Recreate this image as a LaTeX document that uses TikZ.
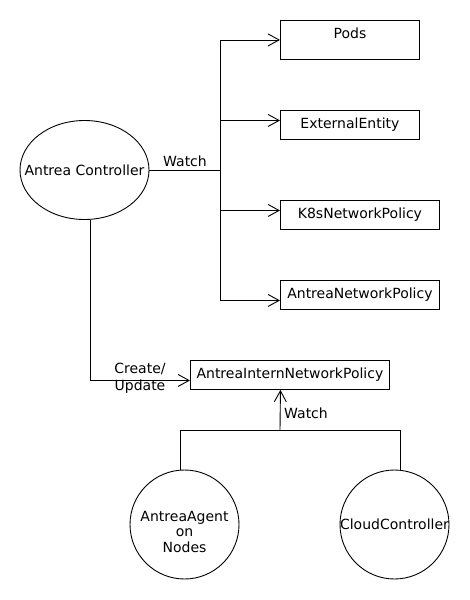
\documentclass[tikz,border=0pt]{standalone}
\usepackage{fontspec}
\setmainfont{DejaVu Sans}
\usetikzlibrary{shapes.geometric,arrows.meta}
\tikzset{
  box/.style={draw, rectangle, inner sep=0pt, anchor=north west},
  oval/.style={draw, ellipse, inner sep=0pt},
  rnd/.style={draw, circle, inner sep=0pt, minimum size=109pt},
  arr/.style={-{Straight Barb[length=11pt,width=12pt]}},
  lbl/.style={inner sep=0pt},
}
\begin{document}
\begin{tikzpicture}[x=1pt,y=-1pt,line width=0.9pt,font=\fontsize{14}{16}\selectfont]
\useasboundingbox (0,0) rectangle (470,600);
\fill[white] (0,0) rectangle (470,600);
% nodes
\node[oval, minimum width=129pt, minimum height=99pt, label={center:Antrea Controller}] (ac) at (84.5,170) {};
\node[box, minimum width=139pt, minimum height=39pt, label={[yshift=6.5pt]center:Pods}] (pods) at (280,20) {};
\node[box, minimum width=139pt, minimum height=29pt] (ext) at (280,110) {ExternalEntity};
\node[box, minimum width=159pt, minimum height=29pt] (k8s) at (280,200) {K8sNetworkPolicy};
\node[box, minimum width=159pt, minimum height=29pt] (anp) at (280,280) {AntreaNetworkPolicy};
\node[box, minimum width=199pt, minimum height=29pt] (intern) at (190,360) {AntreaInternNetworkPolicy};
\node[rnd, label={[align=center, yshift=-7pt]center:AntreaAgent\\[-0.5pt]on\\[-0.5pt]Nodes}] (agent) at (184.5,524.5) {};
\node[rnd, label={center:CloudController}] (cloud) at (394.5,524.5) {};
% labels
\node[lbl] (w1) at (185,161) {Watch};
\node[lbl] (w2) at (306,413) {Watch};
\node[lbl, align=center] (cu) at (140,378.5) {Create/\\[1pt]Update};
% connectors
\coordinate (bus) at (220,170);
\draw (ac.east) -- (bus);
\draw[arr] (bus) |- (pods.west);
\draw[arr] (bus) |- ([yshift=4.5pt]ext.west);
\draw[arr] (bus) |- ([yshift=4.5pt]k8s.west);
\draw[arr] (bus) |- ([yshift=-5.5pt]anp.west);
\draw[arr] ([xshift=5.5pt]ac.south) |- ([yshift=-5.5pt]intern.west);
\coordinate (join) at (280,430);
\draw[arr] (join) -- ([xshift=-9.5pt]intern.south);
\draw ([xshift=-4.5pt]agent.north) |- (join);
\draw ([xshift=5.5pt]cloud.north) |- (join);
\end{tikzpicture}
\end{document}
